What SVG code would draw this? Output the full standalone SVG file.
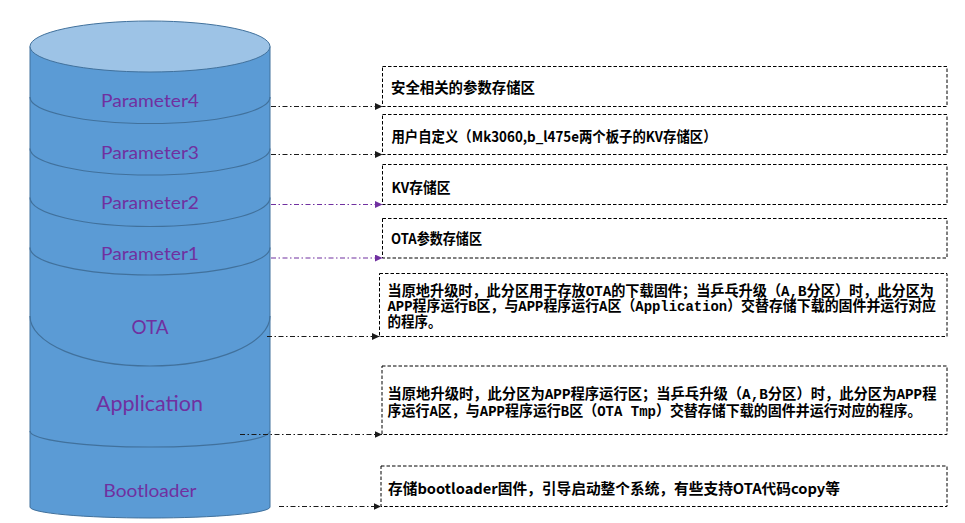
<svg xmlns="http://www.w3.org/2000/svg" width="965" height="523" viewBox="0 0 965 523">
  <defs>
    <marker id="arrDark" markerUnits="userSpaceOnUse" markerWidth="8" markerHeight="7" refX="7.5" refY="3.5" orient="auto">
      <path d="M0,0 L7.5,3.5 L0,7 Z" fill="#1a1a1a"/>
    </marker>
    <marker id="arrPurple" markerUnits="userSpaceOnUse" markerWidth="8" markerHeight="7" refX="7.5" refY="3.5" orient="auto">
      <path d="M0,0 L7.5,3.5 L0,7 Z" fill="#7030A0"/>
    </marker>
  </defs>
  <style>
    .body { fill: #5B9BD5; stroke: #41719C; stroke-width: 1; }
    .top { fill: #9DC3E6; stroke: #41719C; stroke-width: 1; }
    .seam { fill: none; stroke: #41719C; stroke-width: 1.2; }
    .lbl { font-family: Lato, "Liberation Sans", sans-serif; fill: #7030A0; text-anchor: middle; }
    .box { fill: #ffffff; stroke: #000000; stroke-width: 1; stroke-dasharray: 3.5 2; }
    .t1 { font-family: "Noto Sans CJK SC", "Noto Sans", sans-serif; font-weight: bold; font-size: 14.5px; fill: #000000; }
    .t2 { font-family: "Liberation Mono", "Noto Sans CJK SC", monospace; font-weight: bold; font-size: 14.5px; fill: #000000; }
    .conn { fill: none; stroke-width: 1.1; stroke-dasharray: 5 2.5 1.5 2.5; }
    .dark { stroke: #1a1a1a; marker-end: url(#arrDark); }
    .purple { stroke: #7030A0; marker-end: url(#arrPurple); }
  </style>

  <g id="cylinder">
    <path class="body" d="M30,46.5 L30,507 A120,11 0 0 0 270,507 L270,46.5 Z"/>
    <ellipse class="top" cx="150" cy="46.5" rx="120" ry="25.5"/>
    <path class="seam" d="M30,97 A120,26.5 0 0 0 270,97"/>
    <path class="seam" d="M30,148.5 A120,26.5 0 0 0 270,148.5"/>
    <path class="seam" d="M30,197.5 A120,29 0 0 0 270,197.5"/>
    <path class="seam" d="M30,247.5 A120,27.5 0 0 0 270,247.5"/>
    <path class="seam" d="M30,316 A120,50 0 0 0 270,316"/>
    <path class="seam" d="M30,431 A120,16 0 0 0 270,431"/>
  </g>

  <g id="seg-parameter4"><text class="lbl" x="150" y="106.5" font-size="18" textLength="98" lengthAdjust="spacingAndGlyphs">Parameter4</text></g>
  <g id="seg-parameter3"><text class="lbl" x="150" y="159" font-size="18" textLength="98" lengthAdjust="spacingAndGlyphs">Parameter3</text></g>
  <g id="seg-parameter2"><text class="lbl" x="150" y="208.5" font-size="18" textLength="98" lengthAdjust="spacingAndGlyphs">Parameter2</text></g>
  <g id="seg-parameter1"><text class="lbl" x="150" y="259.5" font-size="18" textLength="98" lengthAdjust="spacingAndGlyphs">Parameter1</text></g>
  <g id="seg-ota"><text class="lbl" x="150" y="333.5" font-size="19" textLength="37" lengthAdjust="spacingAndGlyphs">OTA</text></g>
  <g id="seg-application"><text class="lbl" x="149.5" y="410.5" font-size="21" textLength="107" lengthAdjust="spacingAndGlyphs">Application</text></g>
  <g id="seg-bootloader"><text class="lbl" x="150" y="497" font-size="18" textLength="93" lengthAdjust="spacingAndGlyphs">Bootloader</text></g>

  <g id="box-param4">
    <rect class="box" x="382.5" y="66.5" width="564.5" height="40"/>
    <text class="t1" x="391" y="92.5" textLength="144" lengthAdjust="spacingAndGlyphs">安全相关的参数存储区</text>
  </g>
  <g id="box-param3">
    <rect class="box" x="382.5" y="114.5" width="564.5" height="40"/>
    <text class="t1" x="391.5" y="141.5" textLength="325" lengthAdjust="spacingAndGlyphs">用户自定义（Mk3060,b_l475e两个板子的KV存储区）</text>
  </g>
  <g id="box-param2">
    <rect class="box" x="382.5" y="164.5" width="564.5" height="40"/>
    <text class="t1" x="391.5" y="192.5" textLength="59" lengthAdjust="spacingAndGlyphs">KV存储区</text>
  </g>
  <g id="box-param1">
    <rect class="box" x="382.5" y="218.5" width="564.5" height="39.5"/>
    <text class="t1" x="391" y="243.5" textLength="91" lengthAdjust="spacingAndGlyphs">OTA参数存储区</text>
  </g>
  <g id="box-ota">
    <rect class="box" x="379.5" y="273.5" width="567.5" height="63"/>
    <text class="t2" x="387.5" y="295.5" textLength="546.5" lengthAdjust="spacingAndGlyphs">当原地升级时，此分区用于存放OTA的下载固件；当乒乓升级（A,B分区）时，此分区为</text>
    <text class="t2" x="387.5" y="311.2" textLength="548.5" lengthAdjust="spacingAndGlyphs">APP程序运行B区，与APP程序运行A区（Application）交替存储下载的固件并运行对应</text>
    <text class="t2" x="387.5" y="327.2" textLength="54" lengthAdjust="spacingAndGlyphs">的程序。</text>
  </g>
  <g id="box-application">
    <rect class="box" x="382" y="366" width="565" height="68.5"/>
    <text class="t2" x="387.5" y="398.8" textLength="549" lengthAdjust="spacingAndGlyphs">当原地升级时，此分区为APP程序运行区；当乒乓升级（A,B分区）时，此分区为APP程</text>
    <text class="t2" x="387.5" y="415.5" textLength="534" lengthAdjust="spacingAndGlyphs">序运行A区，与APP程序运行B区（OTA Tmp）交替存储下载的固件并运行对应的程序。</text>
  </g>
  <g id="box-bootloader">
    <rect class="box" x="381" y="466" width="566" height="40.5"/>
    <text class="t1" x="388" y="493.8" textLength="452" lengthAdjust="spacingAndGlyphs">存储bootloader固件，引导启动整个系统，有些支持OTA代码copy等</text>
  </g>

  <g id="connectors">
    <line class="conn dark" x1="271" y1="106.5" x2="382.5" y2="106.5"/>
    <line class="conn dark" x1="271" y1="154.5" x2="382.5" y2="154.5"/>
    <line class="conn purple" x1="271" y1="204.5" x2="382.5" y2="204.5"/>
    <line class="conn purple" x1="271" y1="258" x2="382.5" y2="258"/>
    <line class="conn dark" x1="267" y1="336.5" x2="379.5" y2="336.5"/>
    <line class="conn dark" x1="240" y1="434.5" x2="382" y2="434.5"/>
    <line class="conn dark" x1="279" y1="506.5" x2="381" y2="506.5"/>
  </g>
</svg>
